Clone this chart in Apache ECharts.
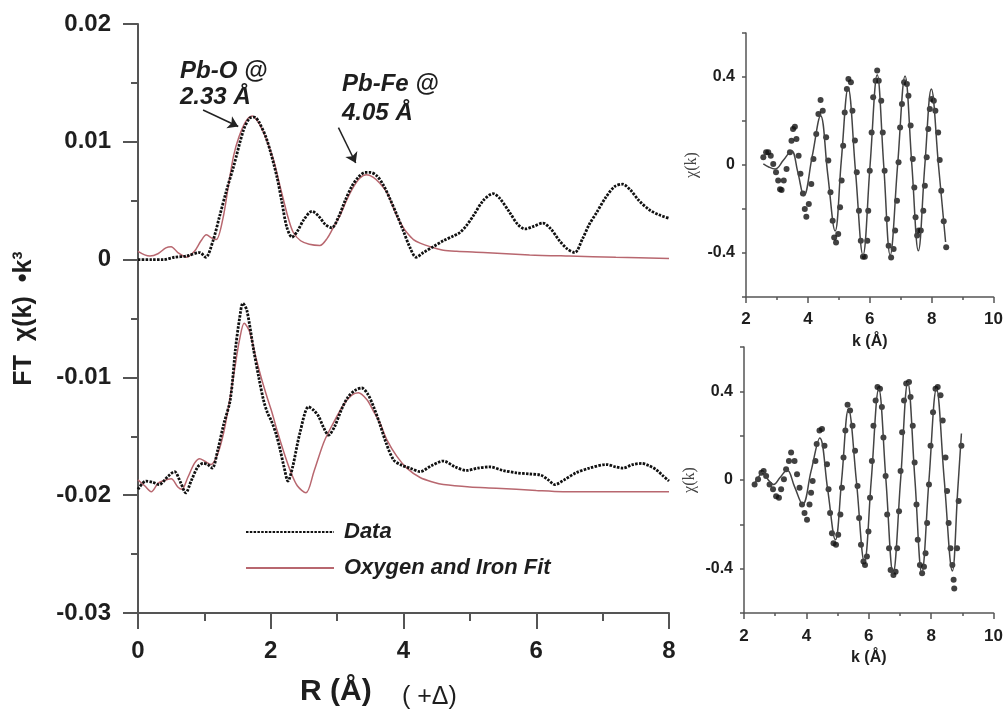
<!DOCTYPE html>
<html><head><meta charset="utf-8">
<script src="https://cdn.jsdelivr.net/npm/echarts@6/dist/echarts.min.js"></script>
<style>html,body{margin:0;padding:0;background:#fff}#c{width:1006px;height:715px}</style>
</head><body><div id="c"></div>
<script>
// ---- Main FT panel data: [R (Å), FT magnitude] ----
var upperData = [[0,0.0000],[0.2,0.0000],[0.38,0.0000],[0.55,0.0002],[0.73,0.0003],[0.93,0.0006],[1.02,0.0002],[1.13,0.0016],[1.23,0.0037],[1.33,0.0058],[1.44,0.0079],[1.59,0.0110],[1.68,0.0120],[1.75,0.0121],[1.82,0.0117],[1.94,0.0102],[2.09,0.0071],[2.17,0.0048],[2.24,0.0028],[2.32,0.0019],[2.40,0.0024],[2.50,0.0034],[2.62,0.0041],[2.72,0.0037],[2.82,0.0030],[2.92,0.0027],[3.02,0.0036],[3.12,0.0050],[3.22,0.0062],[3.32,0.0070],[3.42,0.0074],[3.50,0.0074],[3.60,0.0071],[3.70,0.0063],[3.80,0.0051],[3.90,0.0038],[4.00,0.0024],[4.10,0.0010],[4.19,0.0002],[4.30,0.0006],[4.45,0.0011],[4.60,0.0016],[4.75,0.0020],[4.85,0.0023],[4.95,0.0029],[5.05,0.0037],[5.20,0.0050],[5.35,0.0056],[5.45,0.0052],[5.60,0.0040],[5.72,0.0030],[5.83,0.0026],[5.95,0.0028],[6.10,0.0031],[6.22,0.0026],[6.35,0.0016],[6.47,0.0009],[6.58,0.0006],[6.70,0.0018],[6.80,0.0030],[6.91,0.0040],[7.05,0.0053],[7.18,0.0062],[7.30,0.0064],[7.42,0.0059],[7.55,0.0050],[7.71,0.0042],[7.85,0.0038],[8.00,0.0035]];
var upperFit = [[0,0.0007],[0.1,0.0004],[0.18,0.0003],[0.3,0.0005],[0.42,0.0010],[0.5,0.0011],[0.6,0.0006],[0.73,0.0002],[0.85,0.0007],[0.95,0.0016],[1.03,0.0021],[1.12,0.0018],[1.18,0.0017],[1.28,0.0035],[1.36,0.0062],[1.44,0.0088],[1.52,0.0104],[1.62,0.0117],[1.72,0.0122],[1.82,0.0116],[1.92,0.0104],[2.04,0.0085],[2.12,0.0067],[2.19,0.0051],[2.27,0.0034],[2.34,0.0023],[2.45,0.0016],[2.58,0.0013],[2.74,0.0012],[2.85,0.0018],[2.95,0.0028],[3.04,0.0037],[3.14,0.0050],[3.24,0.0061],[3.34,0.0069],[3.44,0.0072],[3.54,0.0070],[3.64,0.0065],[3.75,0.0057],[3.82,0.0048],[3.90,0.0037],[4.00,0.0027],[4.05,0.0023],[4.15,0.0017],[4.25,0.0014],[4.40,0.0011],[4.60,0.0008],[4.80,0.0007],[5.20,0.0006],[5.90,0.0004],[6.50,0.0003],[7.20,0.0002],[8.00,0.0001]];
var lowerData = [[0,-0.0195],[0.12,-0.0188],[0.22,-0.0189],[0.32,-0.0191],[0.45,-0.0184],[0.55,-0.0180],[0.64,-0.0189],[0.72,-0.0198],[0.80,-0.0188],[0.90,-0.0176],[0.98,-0.0173],[1.05,-0.0174],[1.12,-0.0177],[1.20,-0.0162],[1.29,-0.0140],[1.39,-0.0119],[1.47,-0.0075],[1.53,-0.0050],[1.58,-0.0037],[1.64,-0.0043],[1.74,-0.0076],[1.82,-0.0100],[1.89,-0.0119],[1.95,-0.0130],[2.01,-0.0137],[2.08,-0.0148],[2.14,-0.0161],[2.20,-0.0176],[2.26,-0.0188],[2.33,-0.0176],[2.44,-0.0147],[2.57,-0.0125],[2.65,-0.0128],[2.72,-0.0133],[2.80,-0.0143],[2.87,-0.0149],[2.96,-0.0142],[3.06,-0.0128],[3.16,-0.0117],[3.27,-0.0111],[3.37,-0.0109],[3.46,-0.0114],[3.55,-0.0125],[3.64,-0.0139],[3.74,-0.0156],[3.85,-0.0170],[3.95,-0.0174],[4.10,-0.0177],[4.25,-0.0180],[4.42,-0.0175],[4.60,-0.0171],[4.78,-0.0176],[4.95,-0.0179],[5.12,-0.0177],[5.30,-0.0176],[5.50,-0.0179],[5.70,-0.0181],[5.90,-0.0182],[6.07,-0.0183],[6.18,-0.0187],[6.28,-0.0191],[6.42,-0.0187],[6.60,-0.0181],[6.80,-0.0177],[7.06,-0.0174],[7.20,-0.0176],[7.31,-0.0177],[7.45,-0.0174],[7.59,-0.0173],[7.70,-0.0175],[7.80,-0.0178],[7.90,-0.0183],[8.00,-0.0188]];
var lowerFit = [[0,-0.0187],[0.1,-0.0192],[0.2,-0.0197],[0.3,-0.0190],[0.37,-0.0188],[0.5,-0.0186],[0.6,-0.0193],[0.66,-0.0195],[0.75,-0.0185],[0.85,-0.0173],[0.93,-0.0169],[1.0,-0.0171],[1.1,-0.0174],[1.2,-0.0165],[1.29,-0.0147],[1.37,-0.0123],[1.45,-0.0095],[1.53,-0.0068],[1.6,-0.0054],[1.68,-0.0061],[1.78,-0.0084],[1.86,-0.0101],[1.94,-0.0116],[2.02,-0.0130],[2.1,-0.0146],[2.2,-0.0164],[2.3,-0.0180],[2.4,-0.0192],[2.53,-0.0198],[2.65,-0.0180],[2.8,-0.0155],[2.94,-0.0139],[3.1,-0.0123],[3.22,-0.0115],[3.32,-0.0113],[3.45,-0.0119],[3.55,-0.0129],[3.64,-0.0138],[3.75,-0.0153],[3.9,-0.0167],[4.05,-0.0177],[4.25,-0.0185],[4.45,-0.0189],[4.6,-0.0191],[5.0,-0.0193],[5.4,-0.0194],[6.0,-0.0196],[6.4,-0.0197],[7.0,-0.0197],[8.0,-0.0197]];

// ---- Inset (top): chi(k) data points and fit ----
var topDots = [[2.56,0.035],[2.65,0.058],[2.72,0.058],[2.80,0.042],[2.88,0.005],[2.97,-0.033],[3.04,-0.07],[3.10,-0.11],[3.15,-0.114],[3.22,-0.07],[3.31,-0.018],[3.42,0.058],[3.47,0.11],[3.52,0.164],[3.58,0.174],[3.63,0.118],[3.70,0.042],[3.76,-0.04],[3.84,-0.13],[3.90,-0.2],[3.95,-0.235],[4.03,-0.177],[4.11,-0.086],[4.18,0.027],[4.27,0.141],[4.34,0.232],[4.41,0.295],[4.48,0.247],[4.59,0.126],[4.66,0.02],[4.73,-0.124],[4.80,-0.253],[4.85,-0.329],[4.91,-0.352],[4.98,-0.314],[5.04,-0.192],[5.09,-0.071],[5.14,0.088],[5.19,0.239],[5.26,0.345],[5.31,0.391],[5.39,0.376],[5.44,0.247],[5.52,0.111],[5.58,-0.033],[5.65,-0.208],[5.71,-0.344],[5.78,-0.417],[5.84,-0.417],[5.92,-0.344],[5.95,-0.208],[6.00,-0.026],[6.06,0.148],[6.11,0.308],[6.19,0.383],[6.24,0.429],[6.29,0.383],[6.37,0.292],[6.42,0.148],[6.48,-0.026],[6.56,-0.245],[6.61,-0.367],[6.69,-0.42],[6.77,-0.382],[6.82,-0.298],[6.88,-0.162],[6.93,0.012],[6.98,0.171],[7.04,0.277],[7.11,0.376],[7.20,0.368],[7.25,0.315],[7.32,0.179],[7.39,0.027],[7.44,-0.102],[7.48,-0.238],[7.53,-0.321],[7.58,-0.298],[7.65,-0.298],[7.73,-0.208],[7.78,-0.094],[7.84,0.035],[7.89,0.164],[7.94,0.255],[8.00,0.30],[8.07,0.292],[8.12,0.247],[8.21,0.148],[8.26,0.023],[8.31,-0.117],[8.39,-0.256],[8.47,-0.374]];
var topFit = [[2.56,0.005],[2.75,-0.01],[2.94,-0.018],[3.2,0.02],[3.47,0.065],[3.67,-0.03],[3.87,-0.14],[4.14,0.04],[4.41,0.224],[4.64,-0.04],[4.88,-0.30],[5.08,0.02],[5.3,0.35],[5.54,-0.03],[5.78,-0.41],[6.01,0.0],[6.24,0.41],[6.45,0.0],[6.66,-0.41],[6.9,0.0],[7.14,0.405],[7.36,0.0],[7.57,-0.39],[7.78,0.0],[7.99,0.345],[8.22,0.0],[8.45,-0.35]];

// ---- Inset (bottom) ----
var botDots = [[2.34,-0.02],[2.45,0.003],[2.56,0.033],[2.63,0.041],[2.71,0.018],[2.82,-0.02],[2.93,-0.042],[3.03,-0.073],[3.12,-0.08],[3.19,-0.042],[3.28,0.003],[3.35,0.049],[3.44,0.086],[3.51,0.124],[3.62,0.086],[3.70,0.026],[3.78,-0.035],[3.86,-0.11],[3.94,-0.149],[4.02,-0.179],[4.10,-0.11],[4.15,-0.058],[4.20,-0.005],[4.29,0.086],[4.33,0.162],[4.42,0.223],[4.50,0.23],[4.58,0.155],[4.66,0.071],[4.71,-0.042],[4.76,-0.149],[4.82,-0.24],[4.87,-0.285],[4.95,-0.292],[5.02,-0.247],[5.09,-0.156],[5.14,-0.035],[5.19,0.101],[5.25,0.223],[5.32,0.34],[5.40,0.314],[5.48,0.245],[5.56,0.132],[5.64,-0.027],[5.69,-0.171],[5.75,-0.292],[5.83,-0.368],[5.88,-0.383],[5.94,-0.345],[5.99,-0.232],[6.04,-0.08],[6.10,0.086],[6.15,0.245],[6.22,0.359],[6.28,0.42],[6.36,0.412],[6.42,0.329],[6.47,0.192],[6.54,0.018],[6.59,-0.156],[6.65,-0.308],[6.70,-0.406],[6.79,-0.429],[6.86,-0.414],[6.91,-0.308],[6.97,-0.141],[7.02,0.041],[7.07,0.215],[7.13,0.359],[7.20,0.435],[7.29,0.442],[7.34,0.374],[7.41,0.245],[7.47,0.079],[7.53,-0.11],[7.57,-0.27],[7.64,-0.383],[7.71,-0.421],[7.77,-0.391],[7.82,-0.33],[7.87,-0.194],[7.93,-0.02],[7.98,0.155],[8.06,0.306],[8.14,0.412],[8.21,0.42],[8.30,0.382],[8.37,0.268],[8.46,0.101],[8.51,-0.05],[8.56,-0.194],[8.62,-0.308],[8.68,-0.383],[8.72,-0.45],[8.74,-0.49],[8.83,-0.308],[8.88,-0.095],[8.97,0.155]];
var botFit = [[2.34,-0.015],[2.45,0.01],[2.6,0.035],[2.78,0.0],[2.95,-0.02],[3.15,0.01],[3.38,0.045],[3.62,-0.03],[3.88,-0.11],[4.15,0.04],[4.43,0.19],[4.68,-0.04],[4.93,-0.27],[5.13,0.0],[5.35,0.32],[5.6,0.0],[5.86,-0.37],[6.08,0.0],[6.32,0.41],[6.55,0.0],[6.78,-0.42],[7.02,0.0],[7.25,0.44],[7.48,0.0],[7.7,-0.42],[7.93,0.0],[8.17,0.41],[8.42,0.0],[8.68,-0.41],[8.85,-0.05],[8.97,0.21]];

// tick label lists
var mainYLabels = ['-0.03','-0.02','-0.01','0','0.01','0.02'];
var insetYLabels = ['-0.4','0','0.4'];

var FONT = '"Liberation Sans", Arial, sans-serif';
var AX = '#555';
var TXT = '#1e1e1e';
var FITC = '#b8676f';

function mainYFmt(v){
  var s = v.toFixed(2);
  if (Math.abs(v) < 1e-9) s = '0';
  return mainYLabels.indexOf(s) >= 0 ? s : '';
}
function insetYFmt(v){
  var s = Math.abs(v) < 1e-9 ? '0' : v.toFixed(1);
  return insetYLabels.indexOf(s) >= 0 ? s : '';
}

function insetX(gi, gap, margin){
  return {
    gridIndex: gi, type:'value', min:2, max:10, interval:2,
    name:'k (Å)', nameLocation:'middle', nameGap: gap,
    nameTextStyle:{fontFamily:FONT, fontWeight:'bold', fontSize:16, color:TXT},
    axisLine:{show:true, onZero:false, lineStyle:{color:AX, width:1.5}},
    axisTick:{show:true, length:6, lineStyle:{color:AX, width:1.5}},
    minorTick:{show:true, splitNumber:2, length:3, lineStyle:{color:AX, width:1.5}},
    splitLine:{show:false}, minorSplitLine:{show:false},
    axisLabel:{fontFamily:FONT, fontWeight:'bold', fontSize:17, color:TXT, margin:margin}
  };
}
function insetY(gi){
  return {
    gridIndex: gi, type:'value', min:-0.6, max:0.6, interval:0.2,
    name:'χ(k)', nameLocation:'middle', nameGap: 46,
    nameTextStyle:{fontFamily:'"Liberation Serif", serif', fontSize:16, color:'#444'},
    axisLine:{show:true, onZero:false, lineStyle:{color:AX, width:1.5}},
    axisTick:{show:true, length:4, lineStyle:{color:AX, width:1.5}},
    splitLine:{show:false},
    axisLabel:{fontFamily:FONT, fontWeight:'bold', fontSize:16, color:TXT, margin:11, formatter: insetYFmt}
  };
}

var chart = echarts.init(document.getElementById('c'), null, {renderer:'canvas'});
var option = {
  backgroundColor:'#fff',
  animation:false,
  grid:[
    {left:138, top:24, width:531, height:589},
    {left:746, top:33, width:250, height:264},
    {left:744, top:347, width:251, height:266}
  ],
  legend:{
    data:['Data','Oxygen and Iron Fit'],
    orient:'vertical', left:245, top:521, padding:0,
    itemWidth:88, itemHeight:14, itemGap:14,
    itemStyle:{opacity:0},
    textStyle:{fontFamily:FONT, fontWeight:'bold', fontStyle:'italic', fontSize:22, color:TXT, padding:[0,0,0,5]},
    selectedMode:false
  },
  xAxis:[
    {
      gridIndex:0, type:'value', min:0, max:8, interval:2,
      axisLine:{show:true, onZero:false, lineStyle:{color:AX, width:2}},
      axisTick:{show:true, length:16, lineStyle:{color:AX, width:2}},
      minorTick:{show:true, splitNumber:2, length:8, lineStyle:{color:AX, width:2}},
      splitLine:{show:false}, minorSplitLine:{show:false},
      axisLabel:{fontFamily:FONT, fontWeight:'bold', fontSize:24, color:TXT, margin:26}
    },
    insetX(1, 37, 14), insetX(2, 37, 15)
  ],
  yAxis:[
    {
      gridIndex:0, type:'value', min:-0.03, max:0.02, interval:0.01,
      name:'FT  χ(k)  •k³', nameLocation:'middle', nameGap:101, nameRotate:90,
      nameTextStyle:{fontFamily:FONT, fontWeight:'bold', fontSize:25, color:TXT},
      axisLine:{show:true, onZero:false, lineStyle:{color:AX, width:2}},
      axisTick:{show:true, length:15, lineStyle:{color:AX, width:2}},
      minorTick:{show:true, splitNumber:2, length:7, lineStyle:{color:AX, width:2}},
      splitLine:{show:false}, minorSplitLine:{show:false},
      axisLabel:{fontFamily:FONT, fontWeight:'bold', fontSize:24, color:TXT, margin:27, formatter: mainYFmt}
    },
    insetY(1), insetY(2)
  ],
  series:[
    {name:'Oxygen and Iron Fit', type:'line', xAxisIndex:0, yAxisIndex:0, data:upperFit, symbol:'none', smooth:0.3,
     lineStyle:{color:FITC, width:1.5}, itemStyle:{color:FITC}, z:2,
     markLine:{silent:true, symbol:['none','arrow'], symbolSize:10,
       lineStyle:{color:'#222', width:1.5, type:'solid'}, label:{show:false},
       data:[
         [{coord:[0.98,0.0127]},{coord:[1.51,0.0113]}],
         [{coord:[3.02,0.0112]},{coord:[3.28,0.0082]}]
       ]}},
    {name:'Oxygen and Iron Fit', type:'line', xAxisIndex:0, yAxisIndex:0, data:lowerFit, symbol:'none', smooth:0.3,
     lineStyle:{color:FITC, width:1.5}, itemStyle:{color:FITC}, z:2},
    {name:'Data', type:'line', xAxisIndex:0, yAxisIndex:0, data:upperData, symbol:'none', smooth:0.3,
     lineStyle:{color:'#111', width:2.8, type:[2.5,1.3]}, itemStyle:{color:'#111'}, z:3},
    {name:'Data', type:'line', xAxisIndex:0, yAxisIndex:0, data:lowerData, symbol:'none', smooth:0.3,
     lineStyle:{color:'#111', width:2.8, type:[2.5,1.3]}, itemStyle:{color:'#111'}, z:3},
    {name:'inset1fit', type:'line', xAxisIndex:1, yAxisIndex:1, data:topFit, symbol:'none', smooth:0.4,
     lineStyle:{color:'#444', width:1.5}},
    {name:'inset1data', type:'scatter', xAxisIndex:1, yAxisIndex:1, data:topDots, symbol:'circle', symbolSize:6,
     itemStyle:{color:'#111'}},
    {name:'inset2fit', type:'line', xAxisIndex:2, yAxisIndex:2, data:botFit, symbol:'none', smooth:0.4,
     lineStyle:{color:'#444', width:1.5}},
    {name:'inset2data', type:'scatter', xAxisIndex:2, yAxisIndex:2, data:botDots, symbol:'circle', symbolSize:6,
     itemStyle:{color:'#111'}}
  ],
  graphic:[
    {type:'text', style:{x:180, y:71, text:'Pb-O @', font:'italic bold 24px '+FONT, fill:TXT, align:'left', verticalAlign:'middle'}},
    {type:'text', style:{x:180, y:97, text:'2.33 Å', font:'italic bold 24px '+FONT, fill:TXT, align:'left', verticalAlign:'middle'}},
    {type:'text', style:{x:342, y:84, text:'Pb-Fe @', font:'italic bold 24px '+FONT, fill:TXT, align:'left', verticalAlign:'middle'}},
    {type:'text', style:{x:342, y:113, text:'4.05 Å', font:'italic bold 24px '+FONT, fill:TXT, align:'left', verticalAlign:'middle'}},
    {type:'text', style:{x:300, y:692, text:'R (Å)', font:'bold 30px '+FONT, fill:TXT, align:'left', verticalAlign:'middle'}},
    {type:'text', style:{x:402, y:697, text:'( +Δ)', font:'25px '+FONT, fill:TXT, align:'left', verticalAlign:'middle'}}
  ]
};
chart.setOption(option);
</script></body></html>
